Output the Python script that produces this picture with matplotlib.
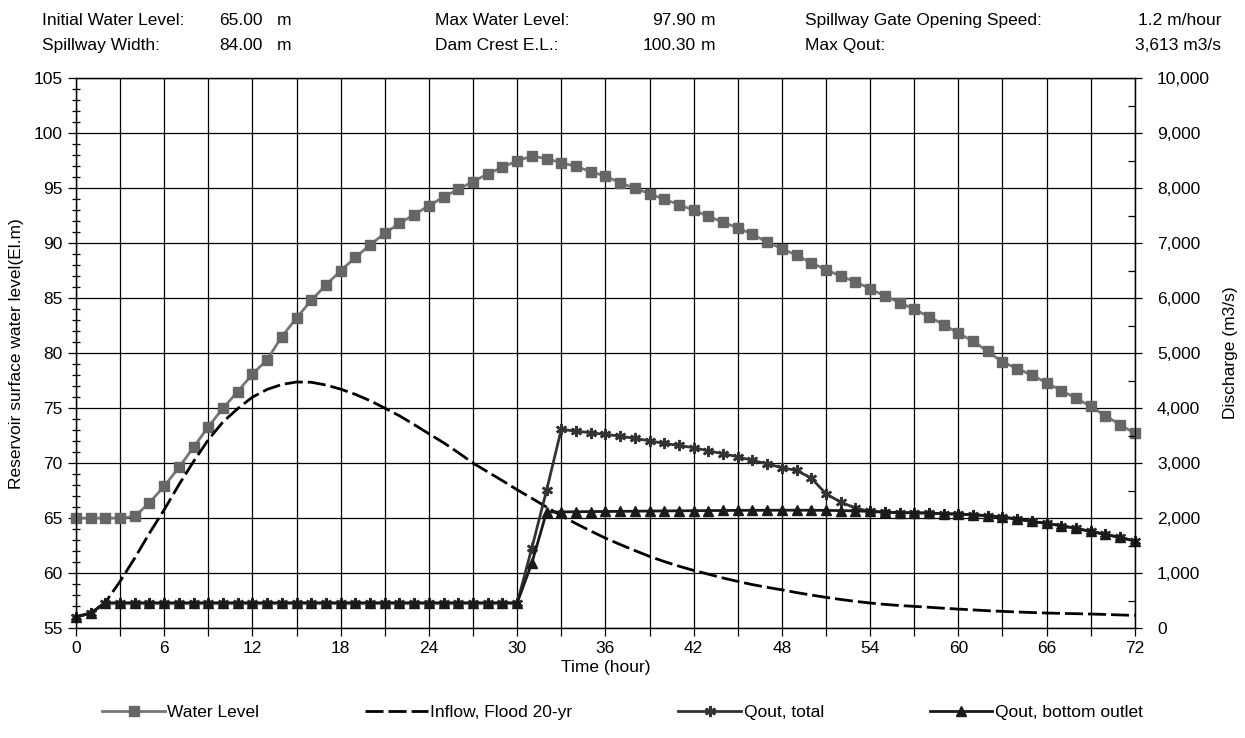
import numpy as np
import matplotlib
matplotlib.use("Agg")
import matplotlib.pyplot as plt
from matplotlib.ticker import MultipleLocator, FuncFormatter

plt.rcParams['font.family'] = ['Liberation Sans', 'DejaVu Sans']
plt.rcParams['font.size'] = 12.5

# hourly routing results
hours = np.arange(0, 73)

water_level = [
    65.0, 65.0, 65.0, 65.0, 65.15, 66.4, 67.9, 69.6, 71.45, 73.3,
    75.0, 76.5, 78.1, 79.4, 81.5, 83.2, 84.8, 86.2, 87.5, 88.7,
    89.85, 90.9, 91.8, 92.6, 93.4, 94.2, 94.9, 95.6, 96.3, 96.9,
    97.5, 97.9, 97.7, 97.3, 97.0, 96.5, 96.1, 95.5, 95.0, 94.5,
    94.0, 93.5, 93.0, 92.45, 91.9, 91.4, 90.8, 90.1, 89.5, 88.9,
    88.2, 87.6, 87.0, 86.5, 85.85, 85.2, 84.6, 84.0, 83.3, 82.6,
    81.8, 81.1, 80.15, 79.2, 78.6, 78.0, 77.3, 76.6, 75.9, 75.15,
    74.3, 73.5, 72.7,
]

inflow = [
    200, 273, 467, 848, 1273, 1727, 2152, 2606, 3030, 3424,
    3750, 3990, 4200, 4340, 4430, 4475, 4470, 4420, 4345, 4250,
    4135, 4000, 3860, 3700, 3533, 3370, 3190, 3000, 2840, 2680,
    2515, 2360, 2200, 2042, 1900, 1765, 1636, 1520, 1410, 1303,
    1210, 1125, 1048, 980, 910, 848, 790, 740, 695, 645,
    600, 558, 520, 485, 455, 430, 410, 394, 378, 360,
    345, 330, 315, 303, 292, 282, 273, 267, 261, 255,
    247, 238, 230,
]

qout_total = [
    200, 273, 455, 455, 455, 455, 455, 455, 455, 455,
    455, 455, 455, 455, 455, 455, 455, 455, 455, 455,
    455, 455, 455, 455, 455, 455, 455, 455, 455, 455,
    455, 1455, 2503, 3613, 3582, 3552, 3521, 3491, 3448, 3406,
    3358, 3321, 3279, 3224, 3170, 3115, 3048, 2988, 2915, 2867,
    2727, 2442, 2291, 2182, 2121, 2109, 2097, 2097, 2091, 2079,
    2073, 2061, 2042, 2018, 1982, 1939, 1903, 1861, 1812, 1758,
    1703, 1648, 1582,
]

qout_bottom = [
    200, 273, 455, 455, 455, 455, 455, 455, 455, 455,
    455, 455, 455, 455, 455, 455, 455, 455, 455, 455,
    455, 455, 455, 455, 455, 455, 455, 455, 455, 455,
    455, 1182, 2110, 2112, 2115, 2118, 2120, 2122, 2125, 2128,
    2130, 2132, 2134, 2136, 2138, 2140, 2141, 2142, 2143, 2143,
    2142, 2140, 2136, 2130, 2121, 2109, 2097, 2097, 2091, 2079,
    2073, 2061, 2042, 2018, 1982, 1939, 1903, 1861, 1812, 1758,
    1703, 1648, 1582,
]

header_rows = [
    ("Initial Water Level:", "65.00", "Max Water Level:", "97.90",
     "Spillway Gate Opening Speed:", "1.2 m/hour"),
    ("Spillway Width:", "84.00", "Dam Crest E.L.:", "100.30",
     "Max Qout:", "3,613 m3/s"),
]

fig = plt.figure(figsize=(12.45, 7.38), dpi=100)
ax = fig.add_axes([0.061, 0.149, 0.8505, 0.745])
ax2 = ax.twinx()

ax.set_xlim(0, 72)
ax.set_ylim(55, 105)
ax2.set_ylim(0, 10000)

ax.xaxis.set_major_locator(MultipleLocator(6))
ax.xaxis.set_minor_locator(MultipleLocator(3))
ax.yaxis.set_major_locator(MultipleLocator(5))
ax.yaxis.set_minor_locator(MultipleLocator(1))
ax2.yaxis.set_major_locator(MultipleLocator(1000))
ax2.yaxis.set_minor_locator(MultipleLocator(500))
ax2.yaxis.set_major_formatter(FuncFormatter(lambda v, p: f"{v:,.0f}"))

ax.grid(True, which='major', axis='y', color='black', lw=0.9)
ax.grid(True, which='both', axis='x', color='black', lw=0.9)
ax.set_axisbelow(True)

ax.tick_params(axis='x', which='both', direction='out', length=6, width=0.9)
ax.tick_params(axis='y', which='major', direction='out', length=6, width=0.9)
ax.tick_params(axis='y', which='minor', direction='inout', length=6, width=0.9)
ax2.tick_params(axis='y', which='major', direction='out', length=5, width=0.9, pad=11)
ax2.tick_params(axis='y', which='minor', direction='in', length=5, width=0.9)
for a in (ax, ax2):
    for s in a.spines.values():
        s.set_color('black')
        s.set_linewidth(0.9)

ax.set_xlabel("Time (hour)", labelpad=3)
ax.set_ylabel("Reservoir surface water level(El.m)", labelpad=7)
ax2.set_ylabel("Discharge (m3/s)", labelpad=9)

l_wl, = ax.plot(hours, water_level, color='#777777', lw=2, marker='s',
                ms=6.5, mec='#666666', mfc='#666666', label='Water Level',
                clip_on=False, zorder=3)
l_in, = ax2.plot(hours, inflow, color='black', lw=2, ls=(0, (6.5, 1.8)),
                 label='Inflow, Flood 20-yr')
l_qt, = ax2.plot(hours, qout_total, color='#333333', lw=2, marker=(6, 2, 0),
                 ms=8, mew=1.8, mec='#333333', label='Qout, total',
                 clip_on=False)
l_qb, = ax2.plot(hours, qout_bottom, color='#1a1a1a', lw=2, marker='^',
                 ms=7, mec='#1a1a1a', mfc='#1a1a1a', label='Qout, bottom outlet',
                 clip_on=False)

fig.legend(handles=[l_wl, l_in, l_qt, l_qb], loc='center', ncol=4,
           bbox_to_anchor=(0.5, 0.035), frameon=False, handlelength=3.6,
           columnspacing=6.1, handletextpad=0.15)

# parameter block above the plot
for i, row in enumerate(header_rows):
    y = 0.972 - i * 0.033
    fig.text(42 / 1245, y, row[0], va='center', ha='left')
    fig.text(263 / 1245, y, row[1], va='center', ha='right')
    fig.text(277 / 1245, y, "m", va='center', ha='left')
    fig.text(435 / 1245, y, row[2], va='center', ha='left')
    fig.text(696 / 1245, y, row[3], va='center', ha='right')
    fig.text(701 / 1245, y, "m", va='center', ha='left')
    fig.text(805 / 1245, y, row[4], va='center', ha='left')
    fig.text(1221 / 1245, y, row[5], va='center', ha='right')

fig.savefig("out.png", dpi=100)
